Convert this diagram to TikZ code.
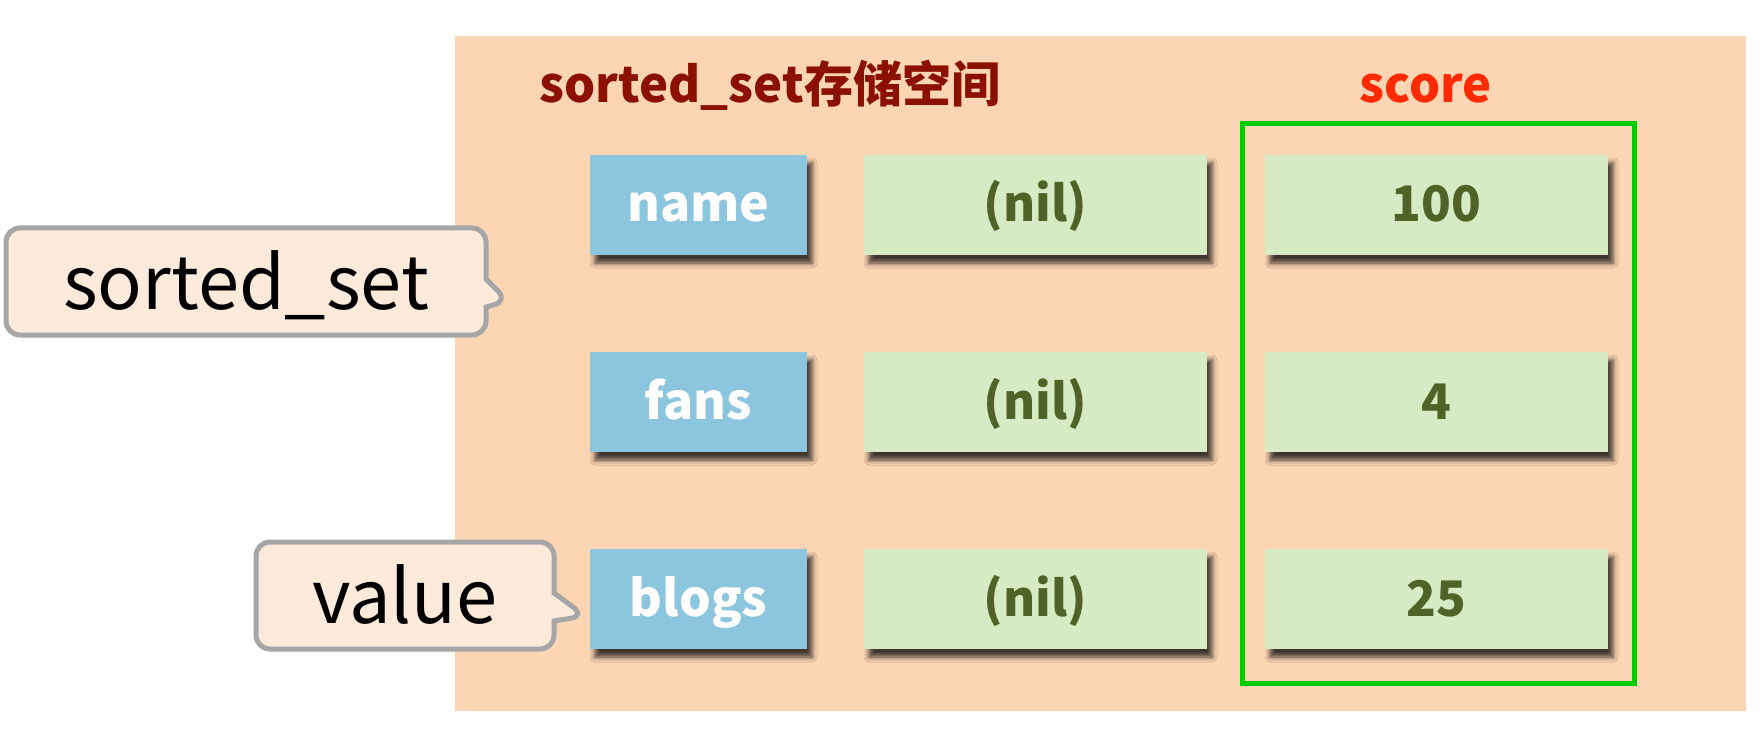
\documentclass[tikz,border=0pt]{standalone}
\usepackage{fontspec}
\setmainfont{Noto Sans CJK SC}
\usetikzlibrary{shapes.callouts,shadows.blur}
\definecolor{peach}{HTML}{FCD5B4}
\definecolor{keyblue}{HTML}{8CC5DE}
\definecolor{valgreen}{HTML}{D6EBC3}
\definecolor{valtext}{HTML}{4F6228}
\definecolor{titlered}{HTML}{8B1000}
\definecolor{scorered}{HTML}{FF2A00}
\definecolor{framegreen}{HTML}{00CC00}
\definecolor{calloutfill}{HTML}{FDEADB}
\definecolor{calloutline}{HTML}{A6A6A6}
\definecolor{shadowbrown}{HTML}{3A2A10}
\tikzset{
  boxshadow/.style={blur shadow={shadow xshift=5pt, shadow yshift=-8pt, shadow blur radius=5pt, shadow opacity=75, shadow blur extra rounding=0pt}},
  keybox/.style={boxshadow, fill=keyblue, minimum width=217pt, minimum height=100pt, inner sep=0pt,
    text=white, font=\fontsize{50}{56}\selectfont\bfseries, text height=34pt, text depth=0pt},
  valbox/.style={boxshadow, fill=valgreen, minimum width=343pt, minimum height=100pt, inner sep=0pt,
    text=valtext, font=\fontsize{49}{56}\selectfont\bfseries, text height=34pt, text depth=0pt},
  tipbox/.style={rectangle callout, draw=calloutline, line width=5pt, fill=calloutfill, rounded corners=14pt,
    inner sep=0pt, callout pointer width=28pt, font=\fontsize{74}{82}\selectfont, text=black,
    text height=66pt, text depth=11pt},
  heading/.style={font=\fontsize{49}{56}\selectfont\bfseries, anchor=base, inner sep=0pt}
}
\begin{document}
\begin{tikzpicture}[x=1pt,y=-1pt]
\useasboundingbox (0,0) rectangle (1763,751);
\fill[white] (0,0) rectangle (1763,751);
% storage area
\node[fill=peach, minimum width=1291pt, minimum height=675pt, inner sep=0pt] (area) at (1100.5,373.5) {};
\node[heading, text=titlered] (title) at (770,103) {sorted\_set存储空间};
\node[heading, text=scorered] (score) at (1426,103) {score};
% score frame
\draw[framegreen, line width=5pt] (1242,124) rectangle (1634,683);
% rows
\node[keybox] (k1) at (698.5,205) {name};
\node[keybox] (k2) at (698.5,402) {fans};
\node[keybox] (k3) at (698.5,599) {blogs};
\node[valbox] (v1) at (1035.5,205) {(nil)};
\node[valbox] (v2) at (1035.5,402) {(nil)};
\node[valbox] (v3) at (1035.5,599) {(nil)};
\node[valbox] (s1) at (1436.5,205) {100};
\node[valbox] (s2) at (1436.5,402) {4};
\node[valbox] (s3) at (1436.5,599) {25};
% callouts
\coordinate (tip1) at (508,301);
\coordinate (tip2) at (585,616);
\node[tipbox, minimum width=480pt, minimum height=107pt, callout absolute pointer={(tip1)}] (c1) at (246,281.5) {sorted\_set};
\node[tipbox, minimum width=298pt, minimum height=107pt, callout absolute pointer={(tip2)}] (c2) at (405,595.5) {value};
\end{tikzpicture}
\end{document}
